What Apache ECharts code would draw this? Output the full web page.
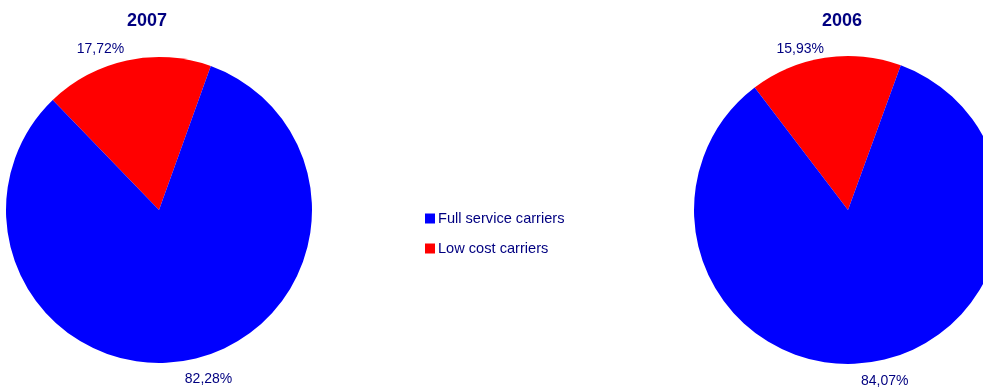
<!DOCTYPE html>
<html>
<head>
<meta charset="utf-8">
<script src="https://cdn.jsdelivr.net/npm/echarts@6/dist/echarts.min.js"></script>
<style>html,body{margin:0;padding:0;background:#fff;}#c{width:983px;height:389px;}</style>
</head>
<body>
<div id="c"></div>
<script>
const categories = ['Low cost carriers', 'Full service carriers'];
const years = ['2007', '2006'];
const values2007 = [17.72, 82.28];
const values2006 = [15.93, 84.07];
const colors = ['#FF0000', '#0000FF'];
const legendOrder = ['Full service carriers', 'Low cost carriers'];

const FONT = '"Liberation Sans", Arial, sans-serif';
const NAVY = '#000080';
// small label nudges [seriesIndex][dataIndex] = [dx, dy]
const labelNudge = [[[0, 1], [-9, 7]], [[1, 4], [-12, 6]]];

function pieSeries(vals, center, radius, startAngle) {
  return {
    type: 'pie',
    center: center,
    radius: radius,
    startAngle: startAngle,
    clockwise: true,
    animation: false,
    avoidLabelOverlap: false,
    label: {
      show: true,
      position: 'outside',
      color: NAVY,
      fontFamily: FONT,
      fontSize: 14,
      distanceToLabelLine: 0,
      formatter: p => p.value.toFixed(2).replace('.', ',') + '%'
    },
    labelLine: { show: false, length: 13, length2: 0 },
    labelLayout: function (p) {
      const n = labelNudge[p.seriesIndex][p.dataIndex];
      return { dx: n[0], dy: n[1] };
    },
    emphasis: { disabled: true },
    itemStyle: { borderWidth: 0 },
    data: categories.map((c, i) => ({ name: c, value: vals[i], itemStyle: { color: colors[i] } }))
  };
}

const chart = echarts.init(document.getElementById('c'), null, { renderer: 'canvas' });
chart.setOption({
  backgroundColor: '#fff',
  title: [
    { text: years[0], left: 127, top: 12, padding: 0, textStyle: { color: NAVY, fontFamily: FONT, fontSize: 18, fontWeight: 'bold' } },
    { text: years[1], left: 822, top: 12, padding: 0, textStyle: { color: NAVY, fontFamily: FONT, fontSize: 18, fontWeight: 'bold' } }
  ],
  legend: {
    data: legendOrder,
    orient: 'vertical',
    left: 425,
    top: 211,
    padding: 0,
    itemWidth: 10,
    itemHeight: 10,
    itemGap: 15,
    icon: 'rect',
    selectedMode: false,
    textStyle: { color: NAVY, fontFamily: FONT, fontSize: 14.6, padding: [0, 0, 0, -2] }
  },
  series: [
    pieSeries(values2007, [159, 210], 153, 134),
    pieSeries(values2006, [848, 210], 154, 127.3)
  ]
});
</script>
</body>
</html>
